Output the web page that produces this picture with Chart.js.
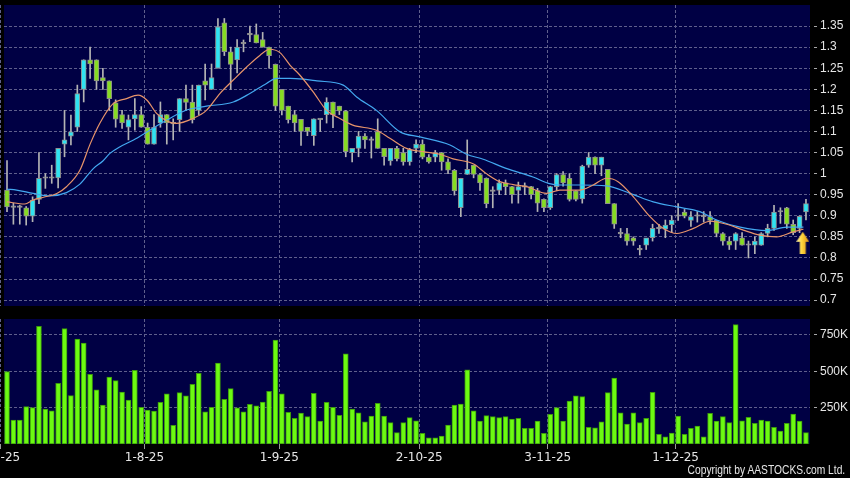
<!DOCTYPE html>
<html>
<head>
<meta charset="utf-8">
<script src="https://cdn.jsdelivr.net/npm/chart.js@4.4.1/dist/chart.umd.min.js"></script>
<style>
  html, body { margin: 0; padding: 0; background: #000; }
  #wrap { position: relative; width: 850px; height: 478px; overflow: hidden; background: #000; }
  #price { position: absolute; left: 0; top: 0; }
  #vol { position: absolute; left: 0; top: 310px; }
  #copy { position: absolute; right: 5px; top: 463px; color: #e6e6e6;
          font: 12.5px "Liberation Sans", sans-serif; white-space: nowrap;
          transform: scaleX(0.82); transform-origin: right top; }
</style>
</head>
<body>
<div id="wrap">
  <canvas id="price" width="850" height="310"></canvas>
  <canvas id="vol" width="850" height="168"></canvas>
  <div id="copy">Copyright by AASTOCKS.com Ltd.</div>
</div>
<script>
// daily candles (index 0 = first candle)
const opens = [
  0.961, 0.921, 0.920, 0.919, 0.899, 0.939, 0.989, 0.990, 0.990, 1.070,
  1.089, 1.110, 1.200, 1.270, 1.270, 1.228, 1.220, 1.168, 1.140, 1.110,
  1.130, 1.140, 1.110, 1.070, 1.120, 1.140, 1.120, 1.128, 1.178, 1.170,
  1.150, 1.220, 1.200, 1.250, 1.358, 1.289, 1.270, 1.309, 1.330, 1.330,
  1.318, 1.300, 1.259, 1.200, 1.160, 1.140, 1.129, 1.110, 1.090, 1.129,
  1.140, 1.170, 1.160, 1.149, 1.050, 1.060, 1.089, 1.080, 1.100, 1.060,
  1.030, 1.060, 1.050, 1.028, 1.060, 1.070, 1.039, 1.039, 1.050, 1.028,
  1.008, 0.919, 0.998, 1.020, 0.998, 0.989, 0.960, 0.960, 0.978, 0.969,
  0.960, 0.969, 0.969, 0.960, 0.939, 0.919, 0.969, 0.998, 0.989, 0.959,
  0.940, 1.020, 1.039, 1.020, 1.010, 0.929, 0.858, 0.858, 0.848, 0.820,
  0.830, 0.848, 0.870, 0.868, 0.879, 0.899, 0.909, 0.889, 0.899, 0.899,
  0.898, 0.889, 0.858, 0.840, 0.840, 0.848, 0.830, 0.830, 0.830, 0.858,
  0.870, 0.909, 0.919, 0.880, 0.870, 0.909
];
const highs = [
  1.031, 0.930, 0.925, 0.922, 0.945, 1.050, 1.000, 1.020, 1.060, 1.150,
  1.139, 1.210, 1.270, 1.300, 1.270, 1.250, 1.220, 1.175, 1.150, 1.139,
  1.178, 1.159, 1.120, 1.140, 1.170, 1.140, 1.130, 1.178, 1.210, 1.210,
  1.210, 1.260, 1.260, 1.368, 1.368, 1.300, 1.318, 1.317, 1.350, 1.355,
  1.335, 1.300, 1.260, 1.200, 1.160, 1.150, 1.129, 1.110, 1.130, 1.130,
  1.180, 1.170, 1.160, 1.150, 1.060, 1.100, 1.095, 1.087, 1.130, 1.060,
  1.060, 1.065, 1.060, 1.060, 1.080, 1.080, 1.045, 1.055, 1.050, 1.035,
  1.010, 0.989, 1.080, 1.020, 1.000, 0.990, 0.969, 0.985, 0.985, 0.970,
  0.980, 0.978, 0.970, 0.965, 0.940, 0.970, 1.000, 1.005, 1.000, 0.960,
  1.020, 1.050, 1.040, 1.039, 1.010, 0.929, 0.870, 0.870, 0.850, 0.830,
  0.835, 0.880, 0.880, 0.890, 0.900, 0.929, 0.915, 0.910, 0.910, 0.910,
  0.910, 0.890, 0.860, 0.850, 0.860, 0.860, 0.840, 0.850, 0.860, 0.880,
  0.925, 0.919, 0.920, 0.890, 0.900, 0.939
];
const lows = [
  0.910, 0.880, 0.880, 0.878, 0.886, 0.929, 0.965, 0.977, 0.966, 1.040,
  1.068, 1.100, 1.170, 1.226, 1.200, 1.200, 1.150, 1.110, 1.107, 1.080,
  1.103, 1.110, 1.070, 1.070, 1.110, 1.070, 1.080, 1.100, 1.150, 1.120,
  1.140, 1.175, 1.200, 1.250, 1.280, 1.200, 1.239, 1.289, 1.313, 1.310,
  1.300, 1.250, 1.150, 1.139, 1.120, 1.100, 1.067, 1.090, 1.067, 1.100,
  1.120, 1.109, 1.140, 1.040, 1.028, 1.040, 1.060, 1.037, 1.060, 1.020,
  1.020, 1.030, 1.020, 1.020, 1.050, 1.035, 1.025, 1.028, 1.008, 1.000,
  0.949, 0.898, 0.998, 0.990, 0.960, 0.919, 0.919, 0.950, 0.950, 0.930,
  0.930, 0.950, 0.940, 0.910, 0.910, 0.915, 0.960, 0.970, 0.935, 0.935,
  0.930, 1.015, 1.000, 0.995, 0.929, 0.870, 0.848, 0.830, 0.830, 0.807,
  0.820, 0.840, 0.858, 0.848, 0.860, 0.889, 0.895, 0.875, 0.885, 0.885,
  0.880, 0.850, 0.830, 0.820, 0.820, 0.830, 0.800, 0.810, 0.830, 0.850,
  0.865, 0.882, 0.870, 0.855, 0.860, 0.890
];
const closes = [
  0.921, 0.920, 0.921, 0.899, 0.937, 0.989, 0.990, 0.989, 1.060, 1.080,
  1.099, 1.190, 1.270, 1.260, 1.220, 1.220, 1.178, 1.129, 1.120, 1.128,
  1.140, 1.110, 1.070, 1.110, 1.140, 1.120, 1.118, 1.178, 1.169, 1.128,
  1.210, 1.210, 1.228, 1.348, 1.289, 1.259, 1.300, 1.308, 1.329, 1.310,
  1.300, 1.280, 1.160, 1.150, 1.128, 1.120, 1.100, 1.100, 1.130, 1.128,
  1.170, 1.140, 1.149, 1.052, 1.060, 1.089, 1.080, 1.079, 1.060, 1.040,
  1.060, 1.035, 1.028, 1.057, 1.070, 1.039, 1.028, 1.050, 1.028, 1.008,
  0.959, 0.989, 1.010, 0.998, 0.978, 0.929, 0.958, 0.978, 0.969, 0.950,
  0.969, 0.968, 0.950, 0.930, 0.919, 0.969, 0.998, 0.978, 0.939, 0.939,
  1.018, 1.039, 1.020, 1.039, 0.929, 0.880, 0.857, 0.840, 0.840, 0.819,
  0.848, 0.870, 0.869, 0.878, 0.890, 0.900, 0.899, 0.898, 0.900, 0.898,
  0.889, 0.858, 0.840, 0.830, 0.858, 0.830, 0.831, 0.840, 0.858, 0.870,
  0.909, 0.910, 0.880, 0.860, 0.899, 0.929
];
// volume in thousands of shares
const volumes = [
  499, 165, 165, 257, 250, 810, 240, 229, 418, 794,
  333, 722, 694, 480, 372, 268, 460, 436, 358, 303,
  506, 253, 234, 227, 287, 345, 128, 353, 331, 411,
  487, 222, 253, 556, 308, 381, 248, 222, 273, 262,
  289, 363, 715, 345, 218, 176, 213, 188, 349, 158,
  287, 253, 197, 621, 241, 215, 153, 192, 280, 192,
  147, 78, 147, 181, 160, 73, 43, 43, 54, 130,
  268, 275, 510, 229, 158, 195, 188, 181, 188, 172,
  176, 107, 107, 158, 73, 204, 250, 158, 296, 331,
  326, 114, 112, 153, 353, 453, 215, 137, 215, 147,
  176, 356, 66, 50, 75, 192, 66, 107, 124, 50,
  211, 158, 188, 147, 821, 160, 183, 142, 165, 158,
  114, 89, 142, 206, 158, 78
];
// moving averages, sampled off the two lines (position in candles, price)
const maShortPos = [0, 2.8, 4, 5.7, 7.8, 9.3, 11.4, 13, 14.5, 16.6, 18.7, 20.5, 21.9, 23.4, 25, 26.5, 29.1, 31.2, 33.3, 35.4,
  37.5, 39.6, 41.1, 42.7, 44.3, 45.8, 47.9, 50, 51.8, 54.1, 57.8, 59.9, 62.5, 65.1, 67.7, 69.8, 73, 75, 77.1, 79.2,
  81.3, 84.4, 86.5, 89.6, 91.7, 93.8, 95.6, 98, 100.6, 102.7, 104.8, 107.4, 110, 112.6, 115.2, 117.8, 120.4, 123, 124.6];
const maShortVal = [0.933, 0.928, 0.937, 0.944, 0.953, 0.969, 1.008, 1.07, 1.119, 1.166, 1.178, 1.186, 1.174, 1.143, 1.125, 1.119, 1.131, 1.15, 1.19, 1.222,
  1.253, 1.281, 1.295, 1.287, 1.257, 1.234, 1.194, 1.15, 1.133, 1.115, 1.103, 1.084, 1.06, 1.052, 1.046, 1.035, 1.023, 1.0, 0.981, 0.974,
  0.969, 0.953, 0.961, 0.961, 0.973, 0.989, 0.981, 0.945, 0.898, 0.87, 0.858, 0.87, 0.887, 0.88, 0.866, 0.854, 0.85, 0.862, 0.868];
const maLongPos = [0, 1.5, 4.1, 6.7, 9.3, 11.4, 13.5, 15, 16.1, 17.7, 19.8, 21.9, 25, 28.1, 31.2, 35.4, 38, 40.6, 42.2, 44.3,
  46.4, 48.5, 52.6, 54.7, 57.8, 61.5, 64.6, 69.3, 71.9, 74.5, 78.2, 82.3, 84.7, 86.5, 89.6, 93.8, 97.5, 101.1, 104.8, 108.4,
  111, 114.7, 118.9, 122, 124.6];
const maLongVal = [0.963, 0.961, 0.953, 0.947, 0.955, 0.975, 1.012, 1.03, 1.048, 1.064, 1.08, 1.099, 1.127, 1.151, 1.16, 1.17, 1.19, 1.214, 1.226, 1.226,
  1.224, 1.22, 1.21, 1.182, 1.15, 1.099, 1.087, 1.068, 1.046, 1.034, 1.012, 0.992, 0.977, 0.973, 0.973, 0.971, 0.953, 0.933, 0.921, 0.91,
  0.89, 0.873, 0.865, 0.873, 0.873];
// buy signal arrow
const signalPos = 124.5;
const signalPrice = 0.836;
// axes
const dateLabels = ['2-7-25', '1-8-25', '1-9-25', '2-10-25', '3-11-25', '1-12-25'];
const dateTickPos = [-1, 21.5, 42.6, 64.5, 84.6, 104.6];
const priceTicks = [0.7, 0.75, 0.8, 0.85, 0.9, 0.95, 1, 1.05, 1.1, 1.15, 1.2, 1.25, 1.3, 1.35];
const volTicks = [250, 500, 750];

const X_MIN = -0.47, X_MAX = 125.63;
const NAVY = '#000044';
const GRID = '#5f5f8c';
const CYAN = '#2fe3f2';
const LEAF = '#86dc22';
const TXT = '#e6e6e6';

const plotBg = {
  id: 'plotBg',
  beforeDraw(chart) {
    const { ctx, chartArea: a } = chart;
    ctx.save();
    ctx.fillStyle = NAVY;
    ctx.fillRect(a.left, a.top, a.right - a.left, a.bottom - a.top);
    ctx.restore();
  }
};

// arrow marker
const arrowImg = document.createElement('canvas');
arrowImg.width = 13; arrowImg.height = 22;
(() => {
  const a = arrowImg.getContext('2d');
  const g = a.createLinearGradient(0, 0, 13, 0);
  g.addColorStop(0, '#fff4a8');
  g.addColorStop(0.45, '#ffd43a');
  g.addColorStop(1, '#d98a12');
  a.fillStyle = g;
  a.beginPath();
  a.moveTo(6.5, 0); a.lineTo(13, 10); a.lineTo(9.5, 10); a.lineTo(9.5, 22);
  a.lineTo(3.5, 22); a.lineTo(3.5, 10); a.lineTo(0, 10); a.closePath();
  a.fill();
})();

const idx = opens.map((_, i) => i);
const bodies = idx.map(i => ({ x: i, y: [opens[i], closes[i]] }));
const wicks = idx.map(i => ({ x: i, y: [lows[i], highs[i]] }));
const bodyColors = idx.map(i => closes[i] > opens[i] + 0.002 ? CYAN : (closes[i] < opens[i] - 0.002 ? LEAF : '#9a9a9a'));

const xAxis = (showLabels) => ({
  type: 'linear', min: X_MIN, max: X_MAX, bounds: 'data', offset: false,
  grid: { color: GRID, offset: false, drawTicks: showLabels, tickLength: 5, tickColor: '#9a9a9a', tickBorderDash: [], tickWidth: 1 },
  border: { display: false, dash: [3, 2] },
  ticks: {
    display: showLabels, autoSkip: false, maxRotation: 0, padding: 2, color: TXT,
    font: { family: 'DejaVu Sans', size: 12 },
    callback: (v, i) => dateLabels[i]
  },
  afterBuildTicks: s => { s.ticks = dateTickPos.map(v => ({ value: v })); },
  afterFit: s => { s.height = showLabels ? 34 : 0; s.paddingLeft = 0; s.paddingRight = 0; }
});

const yAxis = (min, max, tickVals, fmt) => ({
  position: 'right', min, max,
  grid: { color: GRID, tickLength: 7, tickColor: '#a8a8a8', tickBorderDash: [0, 4, 3, 20], tickWidth: 1 },
  border: { display: false, dash: [3, 2] },
  ticks: { color: TXT, padding: 3, font: { family: 'Liberation Sans', size: 12 }, callback: fmt },
  afterBuildTicks: s => { s.ticks = tickVals.map(v => ({ value: v })); },
  afterFit: s => { s.width = 40; s.paddingTop = 0; s.paddingBottom = 0; }
});

const common = {
  responsive: false,
  animation: false,
  events: [],
  plugins: { legend: { display: false }, tooltip: { enabled: false } }
};

new Chart(document.getElementById('price'), {
  type: 'bar',
  data: {
    datasets: [
      { type: 'line', data: [{ x: signalPos, y: signalPrice }], showLine: false,
        pointStyle: arrowImg, pointRadius: 7, order: 0 },
      { type: 'line', data: maShortPos.map((p, i) => ({ x: p, y: maShortVal[i] })),
        borderColor: '#e8946a', borderWidth: 1.2, pointRadius: 0, cubicInterpolationMode: 'monotone', order: 1 },
      { type: 'line', data: maLongPos.map((p, i) => ({ x: p, y: maLongVal[i] })),
        borderColor: '#43a8f0', borderWidth: 1.2, pointRadius: 0, cubicInterpolationMode: 'monotone', order: 1 },
      { data: bodies, backgroundColor: bodyColors, borderColor: '#8e8e8e', borderWidth: 1,
        borderSkipped: false, barThickness: 5, minBarLength: 1.5, grouped: false, order: 2 },
      { data: wicks, backgroundColor: '#b4b4b4', barThickness: 1, grouped: false, order: 3 }
    ]
  },
  options: {
    ...common,
    layout: { autoPadding: false, padding: { left: 4, top: 5, right: 0, bottom: 4 } },
    scales: {
      x: xAxis(false),
      y: yAxis(0.686, 1.40, priceTicks, v => String(Number(v.toFixed(2))))
    }
  },
  plugins: [plotBg]
});

new Chart(document.getElementById('vol'), {
  type: 'bar',
  data: {
    datasets: [
      { data: idx.map(i => ({ x: i, y: volumes[i] })), backgroundColor: '#6cfa12',
        borderColor: '#3c9a0c', borderWidth: 1, borderSkipped: false, barThickness: 5, grouped: false }
    ]
  },
  options: {
    ...common,
    layout: { autoPadding: false, padding: { left: 4, top: 9, right: 0, bottom: 0 } },
    scales: {
      x: xAxis(true),
      y: yAxis(0, 860, volTicks, v => v + 'K')
    }
  },
  plugins: [plotBg]
});
</script>
</body>
</html>
